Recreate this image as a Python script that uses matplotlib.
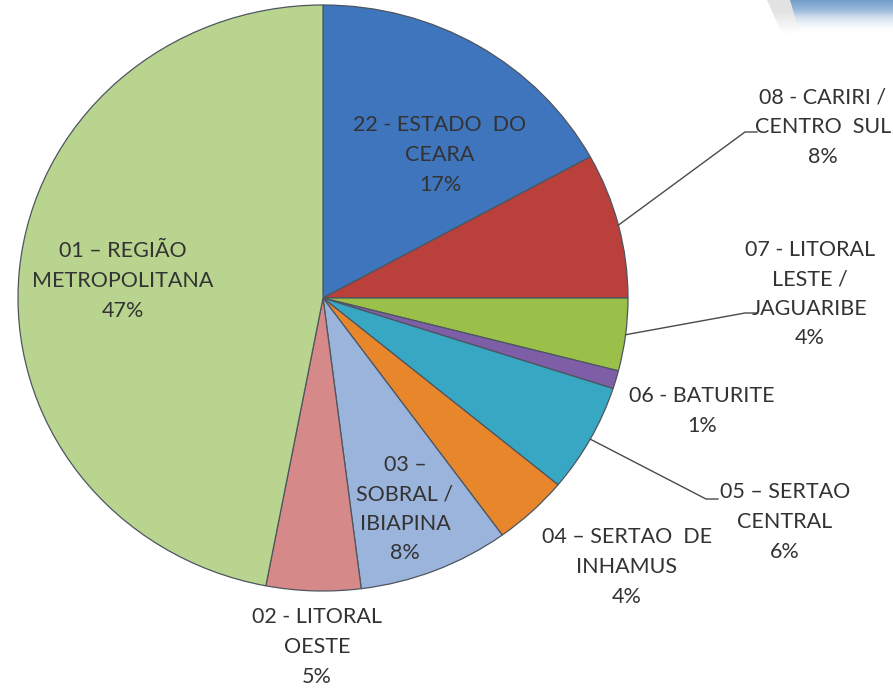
import numpy as np
import matplotlib
matplotlib.use("Agg")
import matplotlib.pyplot as plt
from matplotlib.patches import Polygon

# ---- data (clockwise from 12 o'clock) ----
labels = ["22 - ESTADO  DO\nCEARA", "08 - CARIRI /\nCENTRO  SUL", "07 - LITORAL\nLESTE /\nJAGUARIBE",
          "06 - BATURITE", "05 – SERTAO\nCENTRAL", "04 – SERTAO  DE\nINHAMUS", "03 –\nSOBRAL /\nIBIAPINA",
          "02 - LITORAL\nOESTE", "01 – REGIÃO\nMETROPOLITANA"]
values = [17, 8, 4, 1, 6, 4, 8, 5, 47]
colors = ["#3F75BC", "#B9403B", "#9BC04A", "#7E5EA6", "#38A7C4", "#E8862C", "#9BB4DC", "#D58A89", "#B9D48F"]

W, H = 893, 688
CX, CY, RX, RY = 323, 298, 305, 293

def px2d(x, y):
    return (x - CX) / RX, (CY - y) / RY

fig = plt.figure(figsize=(W / 100, H / 100), dpi=100)
fig.patch.set_facecolor("white")

# decorative top-right swoosh
bg = fig.add_axes([0, 0, 1, 1], zorder=0)
bg.set_xlim(0, W); bg.set_ylim(H, 0); bg.axis("off")
grad = np.linspace(0, 1, 40)[:, None]
img = np.ones((40, 1, 4))
img[..., 0] = 0.45 + 0.55 * grad
img[..., 1] = 0.62 + 0.38 * grad
img[..., 2] = 0.80 + 0.20 * grad
img[..., 3] = 1
bg.imshow(img, extent=[790, W, 34, 0], aspect="auto", zorder=0)
bg.add_patch(Polygon([[767, 0], [790, 0], [800, 34], [782, 34]], closed=True,
                     facecolor="#e2e2e2", edgecolor="none", zorder=1))
bg.imshow(np.dstack([np.ones((40, 1)), np.ones((40, 1)), np.ones((40, 1)),
                     np.clip((np.linspace(0, 1, 40) - 0.3) / 0.7, 0, 1)[:, None]]),
          extent=[765, W, 34, 0], aspect="auto", zorder=2)

ax = fig.add_axes([(CX - RX) / W, 1 - (CY + RY) / H, 2 * RX / W, 2 * RY / H], zorder=1)
wedges, _ = ax.pie(values, colors=colors, startangle=90, counterclock=False, radius=1,
                   wedgeprops=dict(edgecolor="#4d5660", linewidth=0.9))
ax.set_aspect("auto")
ax.set_xlim(-1, 1); ax.set_ylim(-1, 1)
ax.axis("off")

tc = "#333333"
fs = 15.5
font = "Lato"

# label positions in pixel coords (center of text block)
label_pos = [(440, 155), (823, 127), (810, 294), (702, 411), (785, 522), (627, 567), (405, 509), (317, 647), (123, 281)]
leaders = {1: [(745, 132), (757, 132)], 2: [(745, 313), (757, 313)], 4: [(706, 499), (718, 499)]}

total = sum(values)
cum = 0
for i, (lab, v) in enumerate(zip(labels, values)):
    mid = (cum + v / 2) / total * 2 * np.pi
    cum += v
    x, y = px2d(*label_pos[i])
    txt = f"{lab}\n{v}%"
    ax.text(x, y, txt, ha="center", va="center", fontsize=fs, family=font, color=tc,
            linespacing=1.6, clip_on=False)
    if i in leaders:
        sx, sy = np.sin(mid), np.cos(mid)
        pts = [(sx, sy)] + [px2d(*p) for p in leaders[i]]
        xs, ys = zip(*pts)
        ax.plot(xs, ys, color="#4a4a4a", lw=1.0, clip_on=False)

fig.savefig("out.png", dpi=100, facecolor="white")
